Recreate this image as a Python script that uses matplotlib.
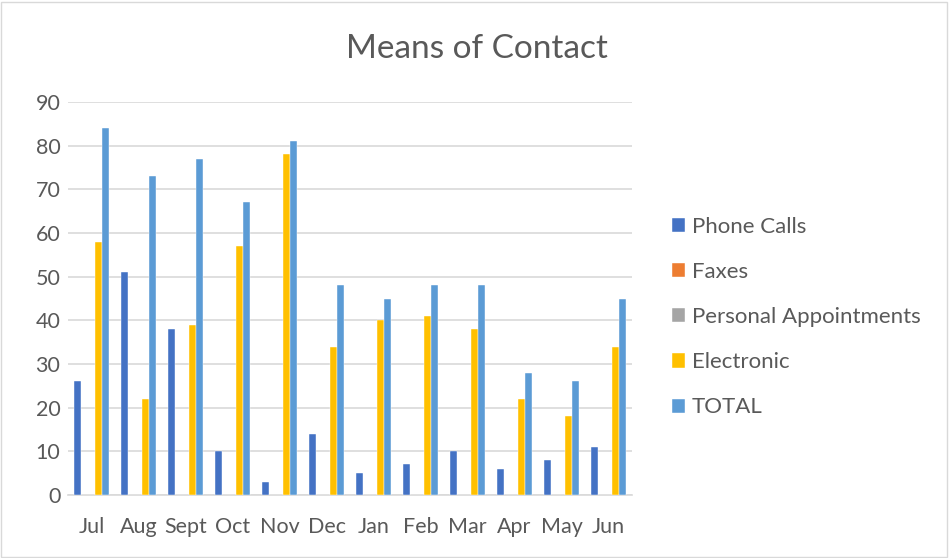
import matplotlib
matplotlib.use("Agg")
import matplotlib.pyplot as plt
import numpy as np
from matplotlib.patches import Rectangle

months = ["Jul", "Aug", "Sept", "Oct", "Nov", "Dec", "Jan", "Feb", "Mar", "Apr", "May", "Jun"]
phone_calls = [26, 51, 38, 10, 3, 14, 5, 7, 10, 6, 8, 11]
faxes = [0, 0, 0, 0, 0, 0, 0, 0, 0, 0, 0, 0]
personal_appointments = [0, 0, 0, 0, 0, 0, 0, 0, 0, 0, 0, 0]
electronic = [58, 22, 39, 57, 78, 34, 40, 41, 38, 22, 18, 34]
total = [84, 73, 77, 67, 81, 48, 45, 48, 48, 28, 26, 45]

series = [
    ("Phone Calls", phone_calls, "#4472C4"),
    ("Faxes", faxes, "#ED7D31"),
    ("Personal Appointments", personal_appointments, "#A5A5A5"),
    ("Electronic", electronic, "#FFC000"),
    ("TOTAL", total, "#5B9BD5"),
]

plt.rcParams['font.family'] = ['Lato', 'DejaVu Sans']
text_color = "#595959"

fig = plt.figure(figsize=(9.49, 5.58), dpi=100)
ax = fig.add_axes([68/949, 1-495/558, (632-68)/949, (495-102)/558])

x = np.arange(len(months))
bw = 0.15
for i, (name, vals, col) in enumerate(series):
    ax.bar(x + (i - 2) * bw, vals, width=bw, color=col, label=name, zorder=3,
           edgecolor="white", linewidth=0.3)

ax.set_xlim(-0.5, len(months) - 0.5)
ax.set_ylim(0, 90)
ax.set_yticks(range(0, 91, 10))
ax.set_xticks(x)
ax.set_xticklabels(months)
ax.tick_params(axis='both', length=0, labelsize=15.5, colors=text_color)
ax.tick_params(axis='y', pad=5.5)
ax.tick_params(axis='x', pad=16)
ax.grid(axis='y', color="#D9D9D9", linewidth=1.2, zorder=0)
for s in ["top", "right", "left"]:
    ax.spines[s].set_visible(False)
ax.spines["bottom"].set_color("#D9D9D9")
ax.spines["bottom"].set_linewidth(1.2)

fig.text(477/949, 1-49/558, "Means of Contact", ha="center", va="center",
         fontsize=24, color=text_color)

leg = fig.legend(loc="upper left", bbox_to_anchor=(652/949, 1-197/558), frameon=False,
                 fontsize=16, handlelength=0.6, handleheight=0.6, handletextpad=0.3,
                 labelspacing=1.13, labelcolor=text_color)

fig.patches.append(Rectangle((1/949, 1/558), 946/949, 555/558, transform=fig.transFigure,
                             fill=False, edgecolor="#D9D9D9", linewidth=1))

fig.savefig("out.png", dpi=100)
